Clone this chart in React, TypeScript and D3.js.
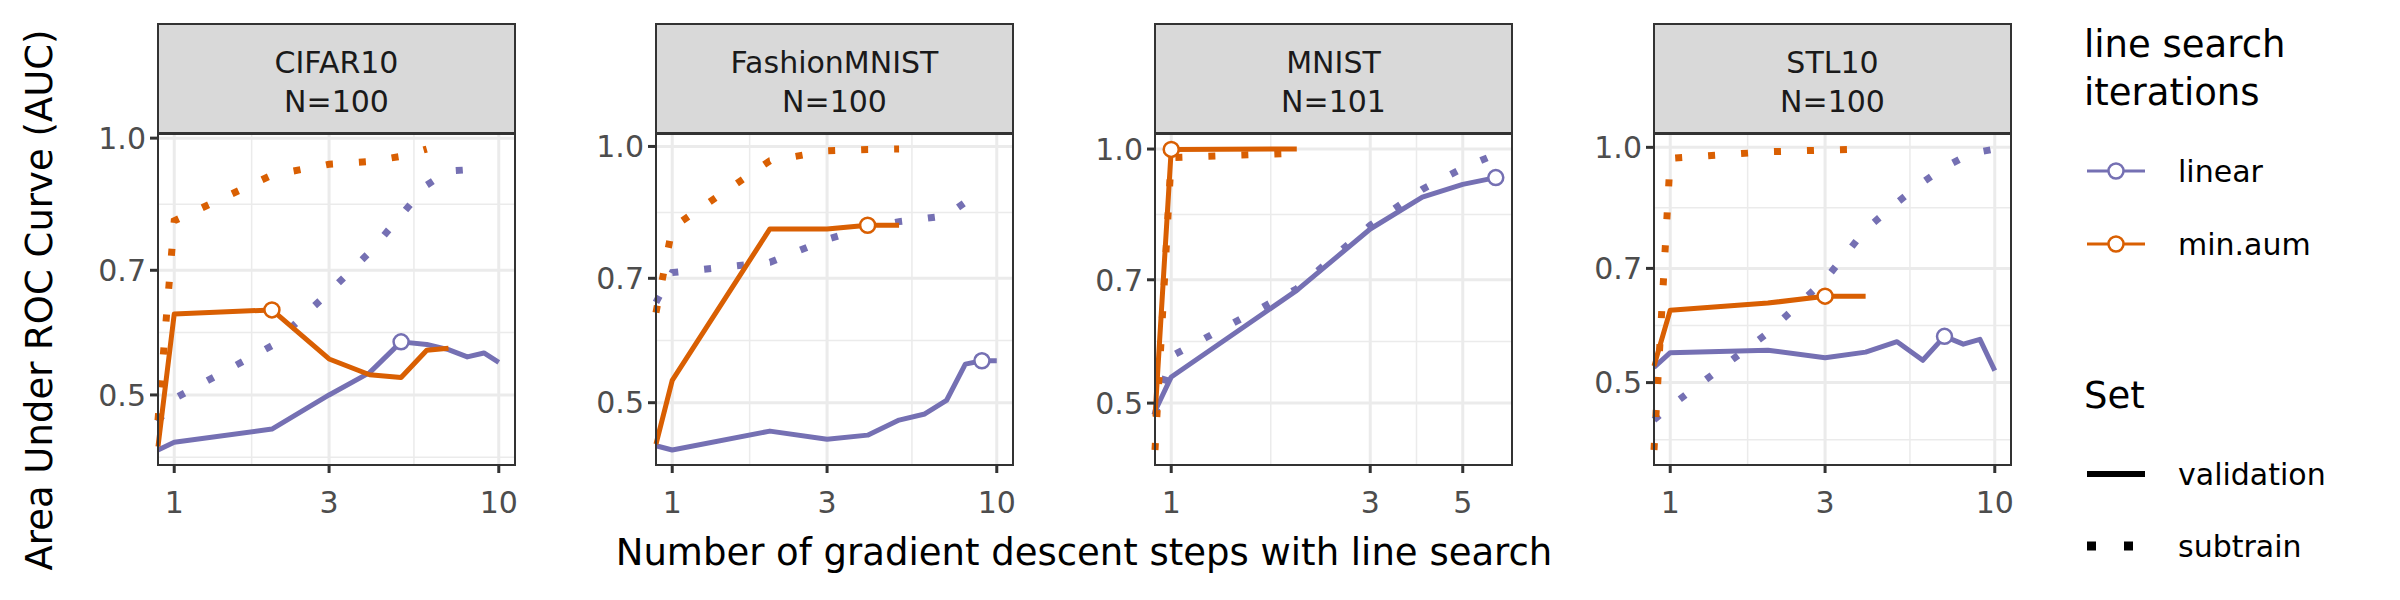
import * as d3 from 'd3';
import * as React from 'react';

// iteration 0 is drawn at the left edge of the panel (log of 0 = -Inf)
const datasets = ['CIFAR10', 'FashionMNIST', 'MNIST', 'STL10'];
const sizes = [100, 100, 101, 100];
const xTicks = [[1, 3, 10], [1, 3, 10], [1, 3, 5], [1, 3, 10]];
const yTicks = [0.5, 0.7, 1.0];

const linearValidation = [
  [0.431, 0.440, 0.456, 0.500, 0.531, 0.577, 0.573, 0.565, 0.554, 0.560, 0.546],
  [0.445, 0.440, 0.463, 0.453, 0.458, 0.477, 0.485, 0.503, 0.555, 0.560, 0.560],
  [0.489, 0.537, 0.680, 0.804, 0.877, 0.908, 0.925],
  [0.523, 0.546, 0.550, 0.538, 0.547, 0.564, 0.534, 0.573, 0.560, 0.568, 0.518],
];
const aumValidation = [
  [0.435, 0.622, 0.629, 0.551, 0.528, 0.524, 0.564, 0.567],
  [0.447, 0.531, 0.800, 0.800, 0.808, 0.808],
  [0.482, 0.999, 1.0],
  [0.525, 0.619, 0.632, 0.645, 0.645],
];
const linearSubtrain = [
  [0.465, 0.495, 0.571, 0.660, 0.735, 0.812, 0.881, 0.915, 0.918, 0.922],
  [0.656, 0.711, 0.731, 0.778, 0.803, 0.816, 0.823, 0.829, 0.860, 0.879],
  [0.484, 0.568, 0.683, 0.812, 0.896, 0.949, 0.986],
  [0.448, 0.466, 0.579, 0.677, 0.785, 0.850, 0.902, 0.943, 0.971, 0.987, 0.995],
];
const aumSubtrain = [
  [0.467, 0.800, 0.905, 0.932, 0.939, 0.952, 0.971],
  [0.638, 0.803, 0.962, 0.988, 0.992, 0.993],
  [0.440, 0.977, 0.989],
  [0.410, 0.968, 0.987, 0.992, 0.995],
];
// iteration selected on the validation curve (open circle)
const linearSelected = [5, 9, 6, 7];
const aumSelected = [2, 4, 1, 3];

const PURPLE = '#7570B3';
const ORANGE = '#D95F02';
const FONT = 'DejaVu Sans, sans-serif';

const panelLeft = [158, 656, 1155, 1654];
const panelW = 357;
const stripTop = 24;
const stripBottom = 133;
const plotTop = 134;
const plotBottom = 465;

function expandLog(lo: number, hi: number, base: (v: number) => number, inv: (v: number) => number) {
  const a = base(lo), b = base(hi);
  const e = (b - a) * 0.05;
  return [inv(a - e), inv(b + e)];
}

function minorBreaks(majors: number[], f: (v: number) => number, inv: (v: number) => number) {
  const t = majors.map(f);
  const bd = t[1] - t[0];
  const ext = [t[0] - bd, ...t, t[t.length - 1] + bd];
  const out: number[] = [];
  for (let i = 0; i < ext.length - 1; i++) out.push(inv((ext[i] + ext[i + 1]) / 2));
  return out;
}

function Panel({ i }: { i: number }) {
  const x0 = panelLeft[i];
  const series = [linearValidation[i], aumValidation[i], linearSubtrain[i], aumSubtrain[i]];
  const all = series.flat();
  const maxIter = d3.max(series, s => s.length - 1) as number;
  const xDom = expandLog(1, maxIter, Math.log10, v => Math.pow(10, v));
  const yDom = expandLog(d3.min(all) as number, d3.max(all) as number, Math.log, Math.exp);
  const x = d3.scaleLog().domain(xDom).range([x0, x0 + panelW]);
  const y = d3.scaleLog().domain(yDom).range([plotBottom, plotTop]);
  const px = (it: number) => (it <= 0 ? x0 : x(it));
  const line = d3.line<number>().x((_, k) => px(k)).y(v => y(v));

  const xMinor = minorBreaks(xTicks[i], Math.log10, v => Math.pow(10, v)).filter(v => v > xDom[0] && v < xDom[1]);
  const yMinor = minorBreaks(yTicks, Math.log, Math.exp).filter(v => v > yDom[0] && v < yDom[1]);
  const yMajor = yTicks.filter(v => v >= yDom[0] && v <= yDom[1]);

  const solid = { fill: 'none', strokeWidth: 5, strokeLinejoin: 'round' as const };
  const dotted = { fill: 'none', strokeWidth: 7, strokeDasharray: '7 26' };

  return (
    <g>
      <rect x={x0} y={plotTop} width={panelW} height={plotBottom - plotTop} fill="white" />
      {xMinor.map(v => <line key={'xm' + v} x1={x(v)} x2={x(v)} y1={plotTop} y2={plotBottom} stroke="#EBEBEB" strokeWidth={1.5} />)}
      {yMinor.map(v => <line key={'ym' + v} x1={x0} x2={x0 + panelW} y1={y(v)} y2={y(v)} stroke="#EBEBEB" strokeWidth={1.5} />)}
      {xTicks[i].map(v => <line key={'xM' + v} x1={x(v)} x2={x(v)} y1={plotTop} y2={plotBottom} stroke="#EBEBEB" strokeWidth={3} />)}
      {yMajor.map(v => <line key={'yM' + v} x1={x0} x2={x0 + panelW} y1={y(v)} y2={y(v)} stroke="#EBEBEB" strokeWidth={3} />)}

      <path d={line(linearSubtrain[i]) || ''} stroke={PURPLE} {...dotted} />
      <path d={line(aumSubtrain[i]) || ''} stroke={ORANGE} {...dotted} />
      <path d={line(linearValidation[i]) || ''} stroke={PURPLE} {...solid} />
      <path d={line(aumValidation[i]) || ''} stroke={ORANGE} {...solid} />
      <circle cx={px(linearSelected[i])} cy={y(linearValidation[i][linearSelected[i]])} r={7.5} fill="white" stroke={PURPLE} strokeWidth={2.5} />
      <circle cx={px(aumSelected[i])} cy={y(aumValidation[i][aumSelected[i]])} r={7.5} fill="white" stroke={ORANGE} strokeWidth={2.5} />

      <rect x={x0} y={plotTop} width={panelW} height={plotBottom - plotTop} fill="none" stroke="#333333" strokeWidth={2} />
      <rect x={x0} y={stripTop} width={panelW} height={stripBottom - stripTop} fill="#D9D9D9" stroke="#333333" strokeWidth={2} />
      <text x={x0 + panelW / 2} y={73} textAnchor="middle" fontSize={30} fill="#1A1A1A">{datasets[i]}</text>
      <text x={x0 + panelW / 2} y={112} textAnchor="middle" fontSize={30} fill="#1A1A1A">{`N=${sizes[i]}`}</text>

      {yMajor.map(v => (
        <g key={'yt' + v}>
          <line x1={x0 - 8} x2={x0} y1={y(v)} y2={y(v)} stroke="#333333" strokeWidth={3} />
          <text x={x0 - 12} y={y(v)} dy="0.36em" textAnchor="end" fontSize={30} fill="#4D4D4D">{v.toFixed(1)}</text>
        </g>
      ))}
      {xTicks[i].map(v => (
        <g key={'xt' + v}>
          <line x1={x(v)} x2={x(v)} y1={plotBottom} y2={plotBottom + 8} stroke="#333333" strokeWidth={3} />
          <text x={x(v)} y={513} textAnchor="middle" fontSize={30} fill="#4D4D4D">{v}</text>
        </g>
      ))}
    </g>
  );
}

function Legend() {
  const lx = 2084;
  const keys = [
    { label: 'linear', color: PURPLE, y: 171 },
    { label: 'min.aum', color: ORANGE, y: 244 },
  ];
  return (
    <g>
      <text x={lx} y={57} fontSize={37} fill="#000">line search</text>
      <text x={lx} y={105} fontSize={37} fill="#000">iterations</text>
      {keys.map(k => (
        <g key={k.label}>
          <line x1={lx + 3} x2={lx + 61} y1={k.y} y2={k.y} stroke={k.color} strokeWidth={3} />
          <circle cx={lx + 32} cy={k.y} r={7.5} fill="white" stroke={k.color} strokeWidth={2.5} />
          <text x={lx + 94} y={k.y} dy="0.36em" fontSize={30} fill="#000">{k.label}</text>
        </g>
      ))}
      <text x={lx} y={408} fontSize={37} fill="#000">Set</text>
      <line x1={lx + 3} x2={lx + 61} y1={474} y2={474} stroke="#000" strokeWidth={6} />
      <text x={lx + 94} y={474} dy="0.36em" fontSize={30} fill="#000">validation</text>
      <line x1={lx + 3} x2={lx + 61} y1={546} y2={546} stroke="#000" strokeWidth={9} strokeDasharray="9 28" />
      <text x={lx + 94} y={546} dy="0.36em" fontSize={30} fill="#000">subtrain</text>
    </g>
  );
}

export default function App() {
  return (
    <svg width={2400} height={600} style={{ display: 'block', position: 'absolute', left: 0, top: 0 }} fontFamily={FONT}>
      <rect width={2400} height={600} fill="white" />
      {datasets.map((_, i) => <Panel key={i} i={i} />)}
      <text x={1084} y={565} textAnchor="middle" fontSize={37} fill="#000">Number of gradient descent steps with line search</text>
      <text transform="translate(52,300) rotate(-90)" textAnchor="middle" fontSize={37} fill="#000">Area Under ROC Curve (AUC)</text>
      <Legend />
    </svg>
  );
}
